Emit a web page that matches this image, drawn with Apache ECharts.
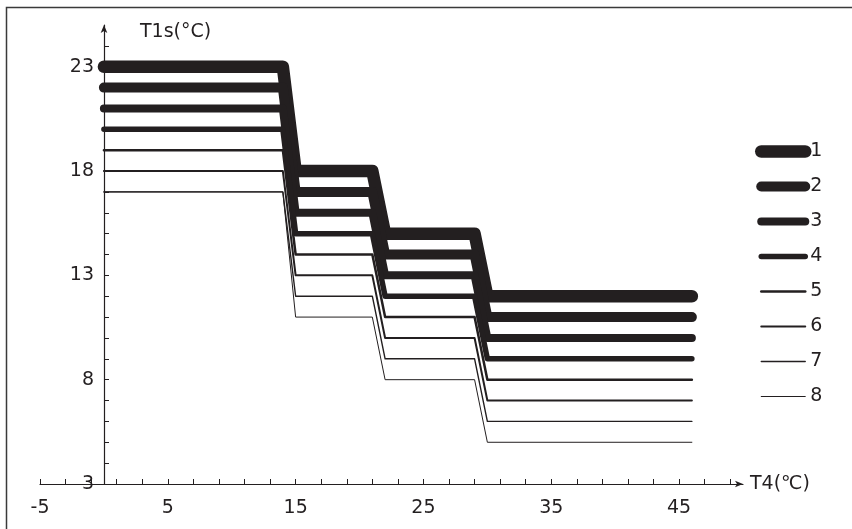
<!DOCTYPE html>
<html style="height: 100%">
   <head>
       <meta charset="utf-8">
       <title>T1s - T4</title>
       <script src="https://cdn.jsdelivr.net/npm/echarts@6/dist/echarts.min.js"></script>
   </head>
   <body style="height: 100%; margin: 0; background: #fff">
        <div id="container" style="width: 852px; height: 529px"></div>
        <script type="text/javascript">
            // T4 break points of the curves
            var t4Points = [0, 14, 15, 21, 22, 29, 30, 46];
            // T1s values of each curve, at the t4Points
            var curve1 = [23, 23, 18, 18, 15, 15, 12, 12];
            var curve2 = [22, 22, 17, 17, 14, 14, 11, 11];
            var curve3 = [21, 21, 16, 16, 13, 13, 10, 10];
            var curve4 = [20, 20, 15, 15, 12, 12, 9, 9];
            var curve5 = [19, 19, 14, 14, 11, 11, 8, 8];
            var curve6 = [18, 18, 13, 13, 10, 10, 7, 7];
            var curve7 = [17, 17, 12, 12, 9, 9, 6, 6];
            var curve8 = [17, 17, 11, 11, 8, 8, 5, 5];
            var curveNames = ['1', '2', '3', '4', '5', '6', '7', '8'];

            var xLabelValues = [-5, 5, 15, 25, 35, 45];
            var xTickValues = [-5, -3, -1, 1, 3, 5, 7, 9, 11, 13, 15, 17, 19, 21, 23, 25, 27, 29, 31, 33, 35, 37, 39, 41, 43, 45, 47, 49];
            var yLabelValues = [3, 8, 13, 18, 23];
            var yTickValues = [4, 5, 6, 7, 8, 9, 10, 11, 12, 13, 14, 15, 16, 17, 18, 19, 20, 21, 22, 23, 24];

            var widths = [12.5, 10, 8, 5.5, 2.5, 2, 1.4, 1];
            var ink = '#231f20';
            var font = 'DejaVu Sans';
            var fs = 19;

            var curves = [curve1, curve2, curve3, curve4, curve5, curve6, curve7, curve8];
            var toPairs = function (ys) {
                var res = [];
                for (var i = 0; i < ys.length; i++) {
                    res.push([t4Points[i], ys[i]]);
                }
                return res;
            };

            var series = [];
            var legendData = [];
            for (var k = 0; k < curves.length; k++) {
                series.push({
                    name: curveNames[k],
                    type: 'line',
                    data: toPairs(curves[k]),
                    symbol: 'none',
                    animation: false,
                    lineStyle: {color: ink, width: widths[k], cap: 'round', join: 'round'},
                    itemStyle: {color: ink}
                });
                legendData.push({
                    name: curveNames[k],
                    itemStyle: {color: 'rgba(0,0,0,0)', opacity: 0, borderWidth: 0},
                    lineStyle: {color: ink, width: widths[k], cap: 'round'}
                });
            }

            var dom = document.getElementById('container');
            var myChart = echarts.init(dom);
            var option = {
                backgroundColor: '#fff',
                textStyle: {fontFamily: font},
                graphic: [{
                    type: 'rect',
                    left: 4,
                    top: 5,
                    shape: {width: 900, height: 600},
                    style: {fill: 'none', stroke: '#3a3a3a', lineWidth: 1.5}
                }],
                grid: {left: 40, right: 109, top: 25, bottom: 45},
                legend: {
                    orient: 'vertical',
                    left: 755,
                    top: 142,
                    itemWidth: 44,
                    itemHeight: 14,
                    itemGap: 16,
                    padding: 0,
                    data: legendData,
                    textStyle: {color: ink, fontSize: fs, fontFamily: font}
                },
                xAxis: {
                    type: 'value',
                    min: -5,
                    max: 50,
                    name: 'T4(℃)',
                    nameLocation: 'end',
                    nameGap: 7,
                    nameTextStyle: {color: ink, fontSize: fs, fontFamily: font},
                    splitLine: {show: false},
                    axisLine: {
                        show: true,
                        onZero: false,
                        symbol: ['none', 'arrow'],
                        symbolSize: [5, 8],
                        lineStyle: {color: ink, width: 1.2}
                    },
                    axisTick: {
                        show: true,
                        inside: true,
                        length: 5,
                        customValues: xTickValues,
                        lineStyle: {color: ink, width: 1}
                    },
                    axisLabel: {
                        customValues: xLabelValues,
                        margin: 15,
                        color: ink,
                        fontSize: fs,
                        fontFamily: font
                    }
                },
                yAxis: {
                    type: 'value',
                    min: 3,
                    max: 25,
                    position: 'left',
                    offset: -64,
                    name: 'T1s(°C)',
                    nameLocation: 'end',
                    nameGap: -17,
                    nameTextStyle: {
                        color: ink,
                        fontSize: fs,
                        fontFamily: font,
                        align: 'left',
                        verticalAlign: 'bottom',
                        padding: [0, 0, 0, 36]
                    },
                    splitLine: {show: false},
                    axisLine: {
                        show: true,
                        onZero: false,
                        symbol: ['none', 'arrow'],
                        symbolSize: [5, 8],
                        lineStyle: {color: ink, width: 1.2}
                    },
                    axisTick: {
                        show: true,
                        inside: true,
                        length: 5,
                        customValues: yTickValues,
                        lineStyle: {color: ink, width: 1}
                    },
                    axisLabel: {
                        customValues: yLabelValues,
                        margin: 10,
                        color: ink,
                        fontSize: fs,
                        fontFamily: font
                    }
                },
                series: series
            };
            myChart.setOption(option, true);
       </script>
   </body>
</html>
